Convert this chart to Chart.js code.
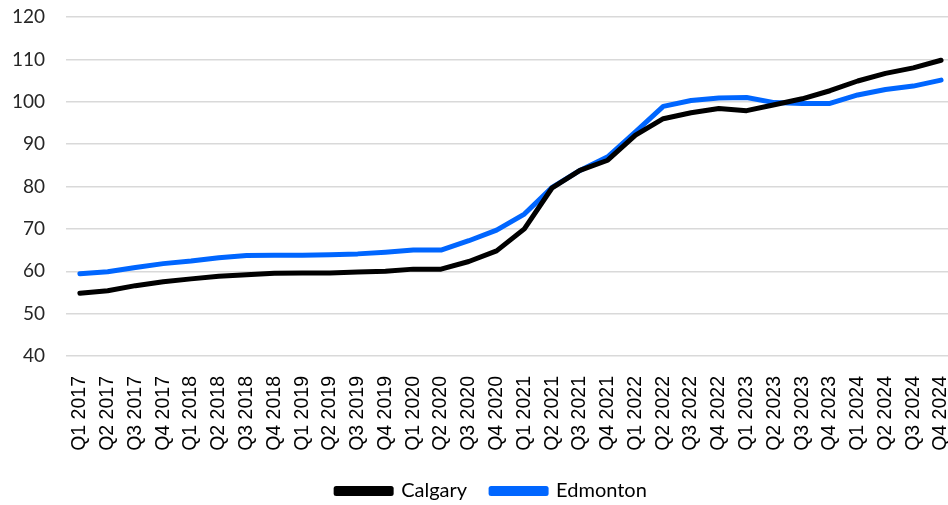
<!DOCTYPE html>
<html>
<head>
<meta charset="utf-8">
<script src="https://cdn.jsdelivr.net/npm/chart.js@4/dist/chart.umd.min.js"></script>
<style>
  html, body { margin: 0; padding: 0; background: #fff; }
  #wrap { width: 948px; height: 505px; }
</style>
</head>
<body>
<div id="wrap"><canvas id="priceIndex"></canvas></div>
<script>
// Quarter labels
const quarters = [
    'Q1 2017', 'Q2 2017', 'Q3 2017', 'Q4 2017',
    'Q1 2018', 'Q2 2018', 'Q3 2018', 'Q4 2018',
    'Q1 2019', 'Q2 2019', 'Q3 2019', 'Q4 2019',
    'Q1 2020', 'Q2 2020', 'Q3 2020', 'Q4 2020',
    'Q1 2021', 'Q2 2021', 'Q3 2021', 'Q4 2021',
    'Q1 2022', 'Q2 2022', 'Q3 2022', 'Q4 2022',
    'Q1 2023', 'Q2 2023', 'Q3 2023', 'Q4 2023',
    'Q1 2024', 'Q2 2024', 'Q3 2024', 'Q4 2024'
];

// Series values
const calgary = [
    54.8, 55.4, 56.6, 57.5, 58.2, 58.8, 59.2, 59.5,
    59.6, 59.6, 59.8, 60.0, 60.5, 60.5, 62.3, 64.8,
    70.0, 79.7, 83.8, 86.2, 92.1, 96.0, 97.4, 98.4,
    97.9, 99.3, 100.7, 102.6, 104.9, 106.7, 108.0, 109.8
];
const edmonton = [
    59.4, 59.9, 60.9, 61.8, 62.4, 63.2, 63.7, 63.8,
    63.8, 63.9, 64.1, 64.5, 65.0, 65.0, 67.2, 69.7,
    73.5, 79.8, 83.8, 87.0, 92.9, 98.9, 100.3, 100.9,
    101.0, 99.8, 99.6, 99.6, 101.6, 102.9, 103.7, 105.1
];

// Y axis range
const yMin = 40;
const yMax = 120;
const yStep = 10;

const ctx = document.getElementById('priceIndex').getContext('2d');

const lineStyle = {
    borderWidth: 5,
    tension: 0,
    pointRadius: 0,
    borderCapStyle: 'round',
    borderJoinStyle: 'round',
    fill: false
};

// nudge the legend a bit to the right, like the original
const legendShift = {
    id: 'legendShift',
    afterLayout(chart) {
        if (chart.legend) {
            chart.legend.left += 35;
        }
    }
};

const chart = new Chart(ctx, {
    type: 'line',
    data: {
        labels: quarters,
        datasets: [
            Object.assign({ label: 'Calgary', data: calgary, borderColor: '#000000', backgroundColor: '#000000' }, lineStyle),
            Object.assign({ label: 'Edmonton', data: edmonton, borderColor: '#0066ff', backgroundColor: '#0066ff' }, lineStyle)
        ]
    },
    plugins: [legendShift],
    options: {
        responsive: true,
        maintainAspectRatio: false,
        animation: false,
        layout: { padding: { top: 17, right: 0, bottom: -6, left: 0 } },
        plugins: {
            tooltip: { enabled: false },
            legend: {
                position: 'bottom',
                labels: {
                    boxWidth: 55,
                    boxHeight: 5,
                    padding: 24,
                    color: '#000',
                    font: { family: 'Lato', size: 20 }
                }
            }
        },
        scales: {
            x: {
                offset: true,
                grid: { display: false },
                border: { display: false },
                ticks: {
                    autoSkip: false,
                    minRotation: 90,
                    maxRotation: 90,
                    padding: 12,
                    color: '#000',
                    font: { family: 'Liberation Sans', size: 19.5 }
                },
                // the last half step runs off the right edge in the original
                afterBuildTicks: (scale) => { scale._valueRange = quarters.length - 0.25; },
                afterFit: (scale) => {
                    scale.height = 101;
                    scale.paddingLeft = 0;
                    scale.paddingRight = 0;
                }
            },
            y: {
                min: yMin,
                max: yMax,
                grid: { color: '#d9d9d9', lineWidth: 1.5, drawTicks: false },
                border: { display: false },
                ticks: {
                    stepSize: yStep,
                    padding: 21,
                    color: '#262626',
                    font: { family: 'Lato', size: 19 }
                },
                afterFit: (scale) => {
                    scale.width = 66;
                    scale.paddingTop = 0;
                    scale.paddingBottom = 0;
                }
            }
        }
    }
});
</script>
</body>
</html>
